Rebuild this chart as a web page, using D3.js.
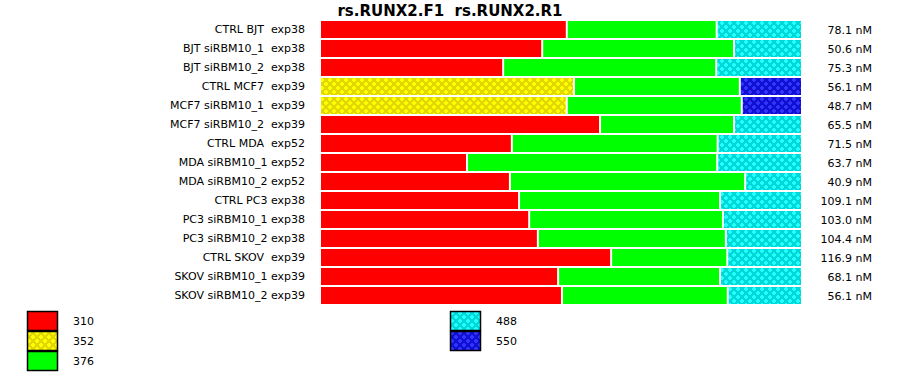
<!DOCTYPE html>
<html>
<head>
<meta charset="utf-8">
<script src="https://cdn.jsdelivr.net/npm/d3@7"></script>
<style>
  body { margin: 0; background: #fff; }
  text { font-family: "DejaVu Sans", Verdana, sans-serif; white-space: pre; }
</style>
</head>
<body>
<div id="chart"></div>
<script>
var width = 900, height = 375;

var title = "rs.RUNX2.F1  rs.RUNX2.R1";

var samples = [
  "CTRL BJT  exp38", "BJT siRBM10_1  exp38", "BJT siRBM10_2  exp38",
  "CTRL MCF7  exp39", "MCF7 siRBM10_1  exp39", "MCF7 siRBM10_2  exp39",
  "CTRL MDA  exp52", "MDA siRBM10_1 exp52", "MDA siRBM10_2 exp52",
  "CTRL PC3 exp38", "PC3 siRBM10_1 exp38", "PC3 siRBM10_2 exp38",
  "CTRL SKOV  exp39", "SKOV siRBM10_1 exp39", "SKOV siRBM10_2 exp39"
];

var concentrations = ["78.1 nM", "50.6 nM", "75.3 nM", "56.1 nM", "48.7 nM", "65.5 nM",
  "71.5 nM", "63.7 nM", "40.9 nM", "109.1 nM", "103.0 nM", "104.4 nM",
  "116.9 nM", "68.1 nM", "56.1 nM"];

// percent of each peak per sample (first peak is 310 or 352, last is 488 or 550)
var firstPeak = [51.2, 46.1, 38.0, 52.7, 51.2, 58.1, 39.8, 30.5, 39.4, 41.3, 43.4, 45.2, 60.4, 49.4, 50.2];
var peak376   = [31.1, 39.8, 44.2, 34.4, 36.3, 27.8, 42.7, 51.9, 48.8, 41.7, 40.2, 39.0, 24.1, 33.6, 34.4];
var lastPeak  = [17.7, 14.1, 17.8, 12.9, 12.5, 14.1, 17.5, 17.6, 11.8, 17.0, 16.4, 15.8, 15.5, 17.0, 15.4];
var firstKey  = ["310", "310", "310", "352", "352", "310", "310", "310", "310", "310", "310", "310", "310", "310", "310"];
var lastKey   = ["488", "488", "488", "550", "550", "488", "488", "488", "488", "488", "488", "488", "488", "488", "488"];

var legendLeft = ["310", "352", "376"];
var legendRight = ["488", "550"];

var fills = {
  "310": "#ff0000",
  "352": "url(#pat352)",
  "376": "#00ff00",
  "488": "url(#pat488)",
  "550": "url(#pat550)"
};

var svg = d3.select("#chart").append("svg")
    .attr("width", width)
    .attr("height", height);

// dotted patterns for the hatched peaks
var defs = svg.append("defs");
function makePattern(id, base, dot) {
  var p = defs.append("pattern")
      .attr("id", id)
      .attr("patternUnits", "userSpaceOnUse")
      .attr("width", 8).attr("height", 8);
  p.append("rect").attr("width", 8).attr("height", 8).attr("fill", base);
  [[1, 1], [5, 5]].forEach(function(c) {
    p.append("rect").attr("x", c[0]).attr("y", c[1] - 1).attr("width", 2).attr("height", 4).attr("fill", dot);
    p.append("rect").attr("x", c[0] - 1).attr("y", c[1]).attr("width", 4).attr("height", 2).attr("fill", dot);
  });
}
makePattern("pat352", "#e0d800", "#ffff00");
makePattern("pat488", "#00d8d8", "#22ffff");
makePattern("pat550", "#1010d0", "#3333ff");

var x = d3.scaleLinear().domain([0, 100]).range([321, 803]);
var y = d3.scaleBand().domain(samples).range([21, 306]).paddingInner(0);

var rows = samples.map(function(s, i) {
  var a = firstPeak[i], b = peak376[i], c = lastPeak[i];
  return {
    name: s,
    segs: [
      {key: firstKey[i], x0: 0, x1: a},
      {key: "376", x0: a, x1: a + b},
      {key: lastKey[i], x0: a + b, x1: 100}
    ]
  };
});

svg.append("text")
    .attr("x", 450)
    .attr("y", 16)
    .attr("text-anchor", "middle")
    .attr("font-size", 15)
    .attr("font-weight", "bold")
    .text(title);

var row = svg.selectAll("g.row")
    .data(rows)
    .enter().append("g")
    .attr("class", "row")
    .attr("transform", function(d) { return "translate(0," + y(d.name) + ")"; });

row.selectAll("rect")
    .data(function(d) { return d.segs; })
    .enter().append("rect")
    .attr("x", function(d) { return x(d.x0); })
    .attr("y", 0)
    .attr("width", function(d) { return x(d.x1) - x(d.x0) - 2; })
    .attr("height", y.bandwidth() - 2)
    .attr("fill", function(d) { return fills[d.key]; });

row.append("text")
    .attr("x", 305)
    .attr("y", 12)
    .attr("text-anchor", "end")
    .attr("font-size", 11)
    .text(function(d) { return d.name; });

row.append("text")
    .attr("x", 872)
    .attr("y", 13)
    .attr("text-anchor", "end")
    .attr("font-size", 11)
    .text(function(d, i) { return concentrations[i]; });

// legend
function drawLegend(keys, lx) {
  var g = svg.append("g");
  var item = g.selectAll("g")
      .data(keys)
      .enter().append("g")
      .attr("transform", function(d, i) { return "translate(" + lx + "," + (311 + i * 20) + ")"; });
  item.append("rect")
      .attr("x", 0.5).attr("y", 0.5)
      .attr("width", 30).attr("height", 19)
      .attr("fill", function(d) { return fills[d]; })
      .attr("stroke", "#000")
      .attr("stroke-width", 1.5);
  item.append("text")
      .attr("x", 46)
      .attr("y", 14)
      .attr("font-size", 11)
      .text(function(d) { return d; });
}
drawLegend(legendLeft, 27);
drawLegend(legendRight, 450);
</script>
</body>
</html>
